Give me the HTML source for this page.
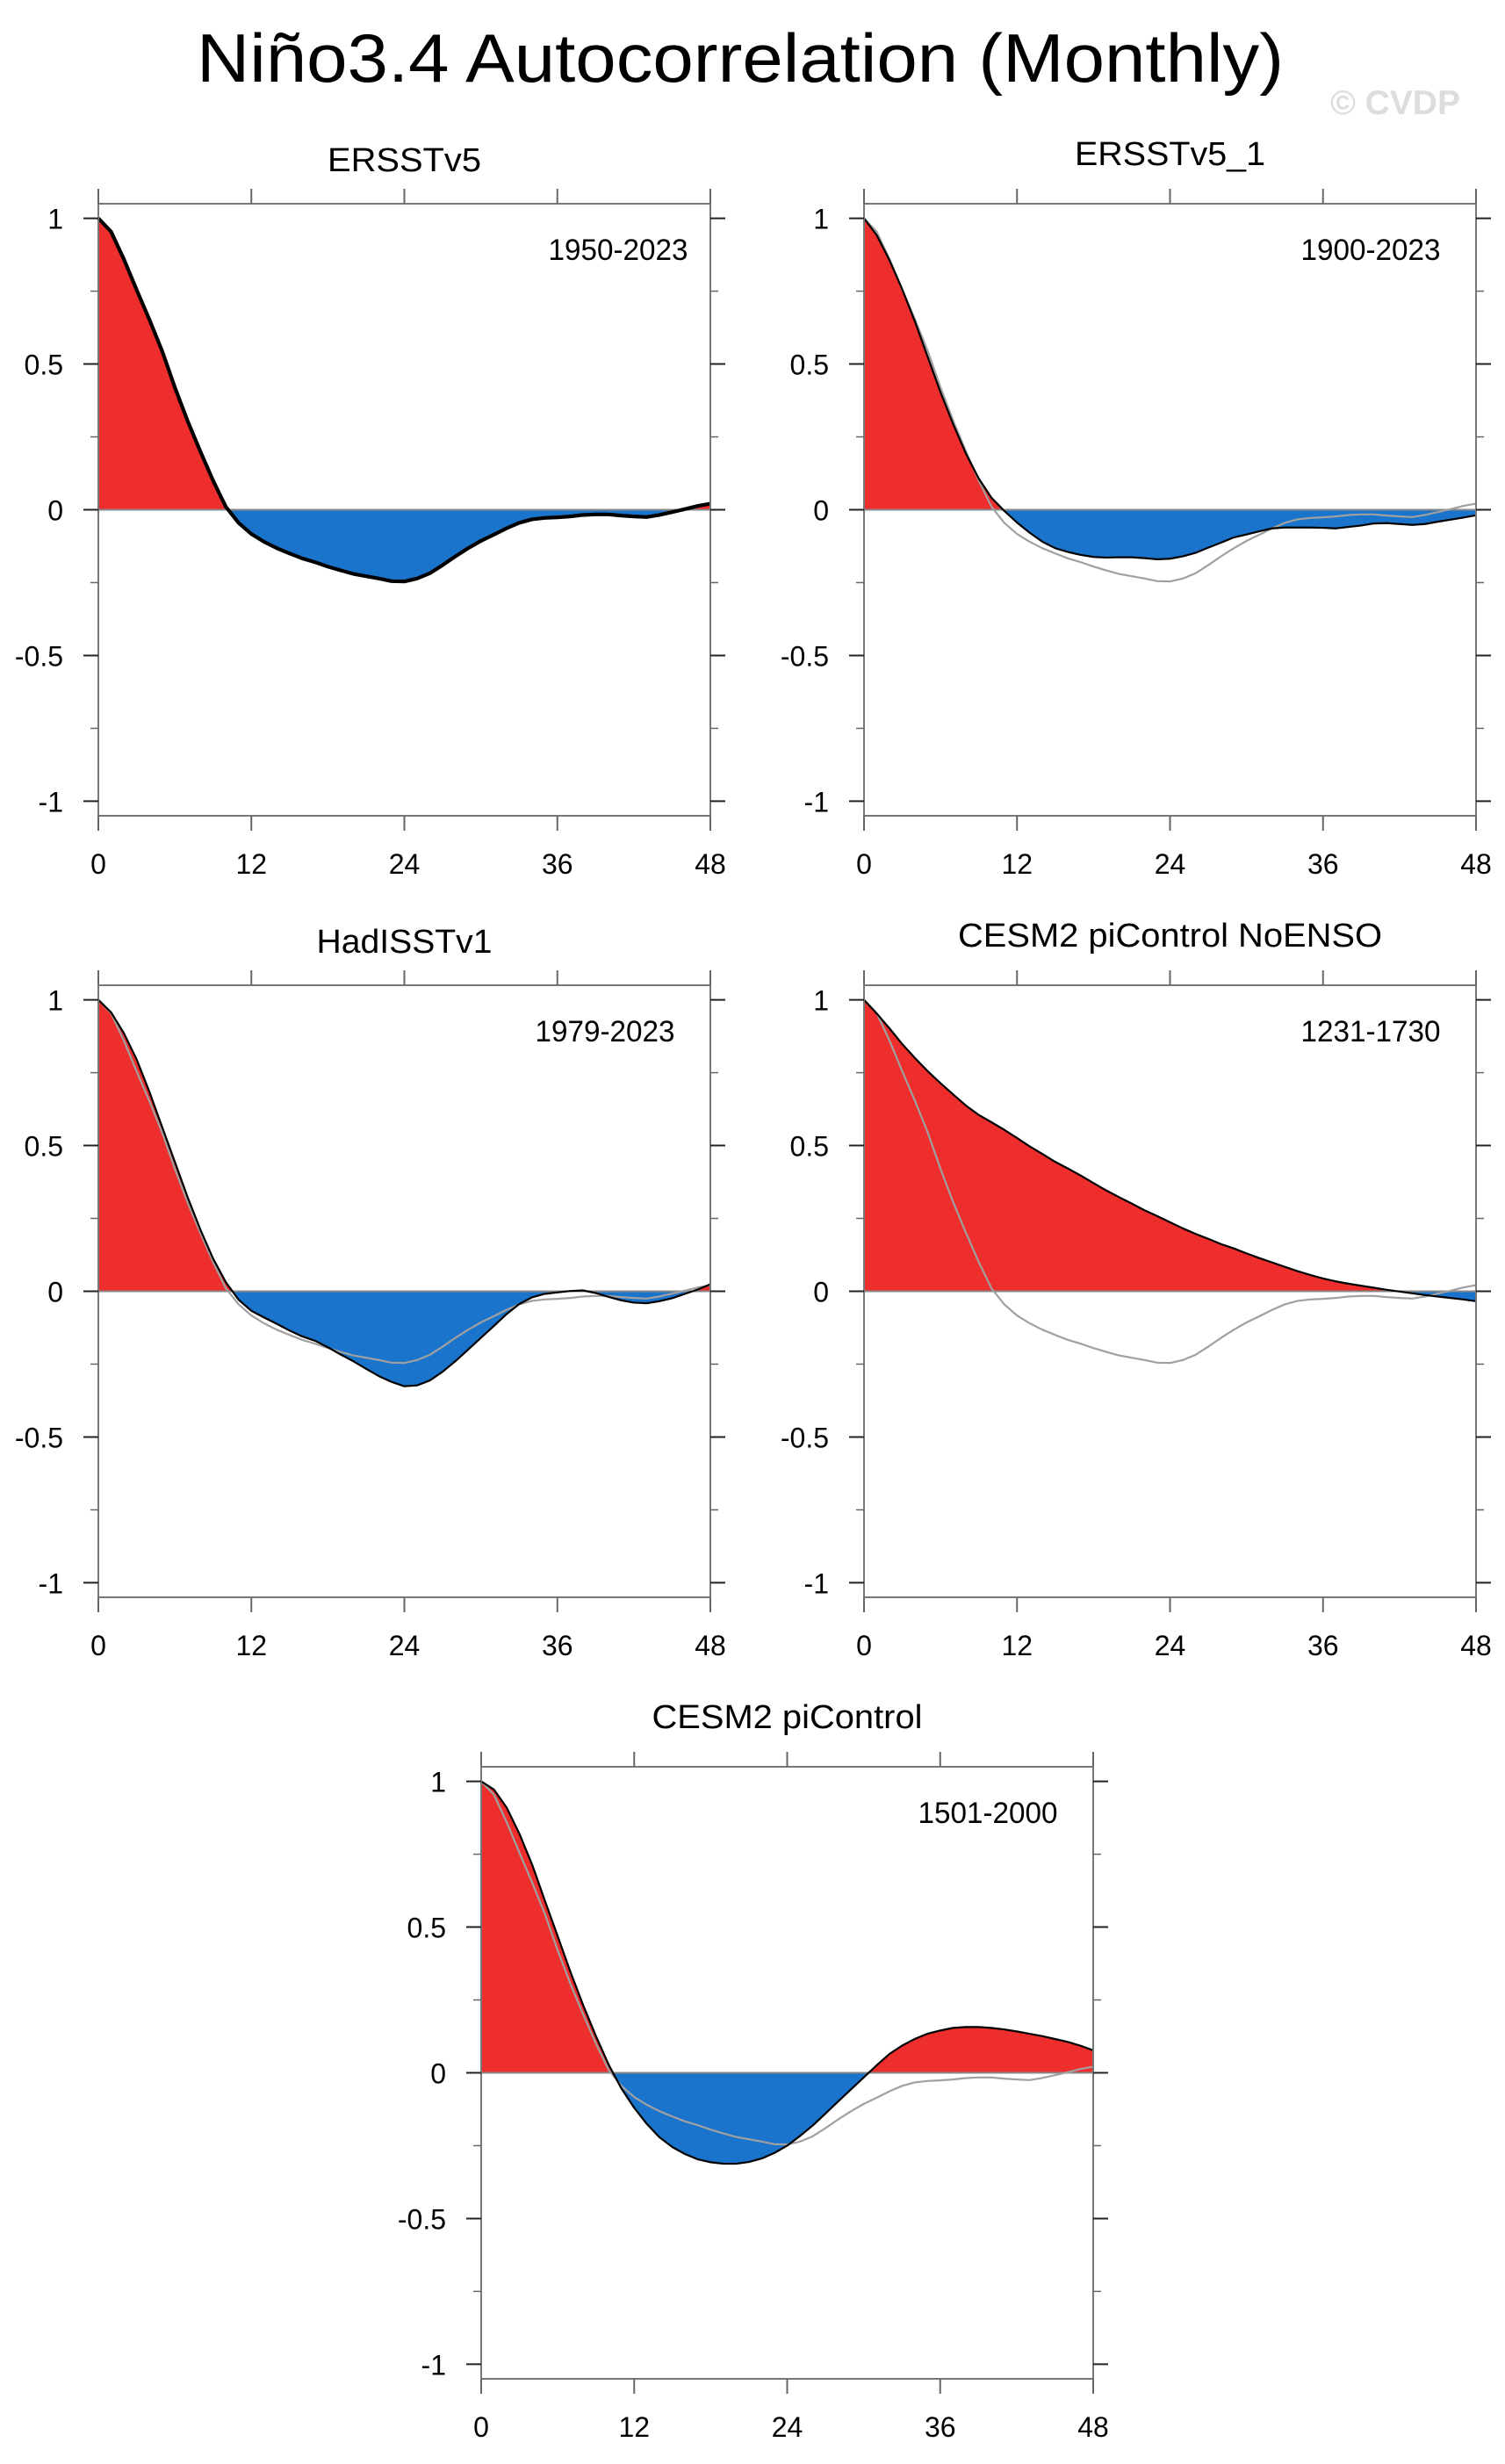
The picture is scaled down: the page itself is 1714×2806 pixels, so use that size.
<!DOCTYPE html>
<html>
<head>
<meta charset="utf-8">
<style>
  html,body{margin:0;padding:0;background:#fff;}
  svg{display:block;}
  text{font-family:"Liberation Sans", Arial, sans-serif;}
</style>
</head>
<body>
<svg id="fig" xmlns="http://www.w3.org/2000/svg" width="1714" height="2806" viewBox="0 0 1714 2806">
  <rect x="0" y="0" width="1714" height="2806" fill="#fff"/>
  <text x="843" y="93" text-anchor="middle" font-size="78" textLength="1238" lengthAdjust="spacingAndGlyphs" fill="#000">Niño3.4 Autocorrelation (Monthly)</text>
  <text x="1663" y="130" text-anchor="end" font-size="39" font-weight="bold" fill="#dddddd">© CVDP</text>
</svg>
<script>
// ---- data ----
const lags = [0,1,2,3,4,5,6,7,8,9,10,11,12,13,14,15,16,17,18,19,20,21,22,23,24,25,26,27,28,29,30,31,32,33,34,35,36,37,38,39,40,41,42,43,44,45,46,47,48];
const ersstv5 = [1.0,0.954,0.86,0.755,0.653,0.545,0.42,0.305,0.20,0.10,0.01,-0.045,-0.083,-0.11,-0.132,-0.15,-0.167,-0.18,-0.195,-0.208,-0.22,-0.228,-0.236,-0.245,-0.246,-0.236,-0.218,-0.19,-0.16,-0.132,-0.107,-0.086,-0.064,-0.045,-0.033,-0.028,-0.026,-0.023,-0.018,-0.016,-0.016,-0.02,-0.023,-0.025,-0.018,-0.008,0.002,0.013,0.021];
const ersstv5_1 = [1.0,0.942,0.856,0.756,0.645,0.524,0.403,0.293,0.192,0.107,0.041,-0.004,-0.044,-0.079,-0.11,-0.132,-0.145,-0.155,-0.162,-0.164,-0.163,-0.163,-0.166,-0.17,-0.168,-0.16,-0.148,-0.13,-0.113,-0.095,-0.085,-0.074,-0.064,-0.061,-0.061,-0.061,-0.062,-0.064,-0.059,-0.054,-0.047,-0.046,-0.049,-0.052,-0.049,-0.041,-0.034,-0.027,-0.019];
const hadisst = [1.0,0.957,0.886,0.796,0.685,0.564,0.444,0.323,0.212,0.112,0.031,-0.029,-0.067,-0.09,-0.112,-0.135,-0.155,-0.17,-0.192,-0.217,-0.24,-0.266,-0.291,-0.311,-0.326,-0.323,-0.306,-0.276,-0.24,-0.2,-0.16,-0.12,-0.079,-0.044,-0.021,-0.009,-0.004,0.001,0.003,-0.006,-0.019,-0.031,-0.039,-0.041,-0.034,-0.024,-0.009,0.006,0.024];
const cesmNoEnso = [1.0,0.953,0.902,0.848,0.8,0.755,0.714,0.675,0.637,0.605,0.58,0.554,0.526,0.497,0.471,0.444,0.421,0.397,0.371,0.346,0.323,0.301,0.278,0.258,0.237,0.216,0.197,0.18,0.162,0.147,0.13,0.114,0.099,0.084,0.069,0.056,0.044,0.034,0.026,0.019,0.012,0.005,-0.001,-0.007,-0.013,-0.018,-0.023,-0.028,-0.034];
const cesmPi = [1.0,0.972,0.91,0.82,0.714,0.59,0.469,0.346,0.232,0.126,0.028,-0.054,-0.12,-0.176,-0.222,-0.255,-0.279,-0.297,-0.307,-0.312,-0.312,-0.306,-0.294,-0.275,-0.25,-0.217,-0.181,-0.14,-0.098,-0.057,-0.016,0.025,0.064,0.093,0.116,0.134,0.145,0.154,0.157,0.157,0.154,0.149,0.142,0.134,0.126,0.116,0.106,0.093,0.077];
const xTicks = [0,12,24,36,48];
const xTickLabels = ["0","12","24","36","48"];
const yTicks = [-1,-0.5,0,0.5,1];
const yTickLabels = ["-1","-0.5","0","0.5","1"];
const yMinorTicks = [-0.75,-0.25,0.25,0.75];
const panelTitles = ["ERSSTv5","ERSSTv5_1","HadISSTv1","CESM2 piControl NoENSO","CESM2 piControl"];
const panelYears = ["1950-2023","1900-2023","1979-2023","1231-1730","1501-2000"];

const NS = "http://www.w3.org/2000/svg";
const svg = document.getElementById('fig');
function mk(tag, attrs, parent){
  const e = document.createElementNS(NS, tag);
  for (const k in attrs) e.setAttribute(k, attrs[k]);
  (parent||svg).appendChild(e);
  return e;
}
const SIZE = 697;
const panels = [
  {left:112, top:232, series:ersstv5, ref:false, lw:4.2, titleDy:37, tw:175, yc:592},
  {left:984, top:232, series:ersstv5_1, ref:true, lw:2.2, titleDy:44, tw:217, yc:577},
  {left:112, top:1122, series:hadisst, ref:true, lw:2.2, titleDy:37, tw:200, yc:577},
  {left:984, top:1122, series:cesmNoEnso, ref:true, lw:2.2, titleDy:44, tw:483, yc:577},
  {left:548, top:2012, series:cesmPi, ref:true, lw:2.2, titleDy:44, tw:308, yc:577}
];

panels.forEach((p, i) => {
  const g = mk('g', {});
  
  
  const xS = v => p.left + v / 48 * SIZE;
  const yS = v => p.top + (1.05 - v) / 2.1 * SIZE;
  const y0 = yS(0);

  const clipTop = 'clipTop' + i, clipBot = 'clipBot' + i;
  const defs = mk('defs', {}, g);
  const c1 = mk('clipPath', {id: clipTop}, defs);
  mk('rect', {x: p.left, y: p.top, width: SIZE, height: y0 - p.top}, c1);
  const c2 = mk('clipPath', {id: clipBot}, defs);
  mk('rect', {x: p.left, y: y0, width: SIZE, height: p.top + SIZE - y0}, c2);
  let area = 'M' + xS(lags[0]) + ' ' + y0;
  lags.forEach((l, k) => { area += ' L' + xS(l).toFixed(2) + ' ' + yS(p.series[k]).toFixed(2); });
  area += ' L' + xS(lags[lags.length-1]) + ' ' + y0 + ' Z';
  const pos = mk('path', {d: area, fill: '#ee2d2d', 'clip-path': 'url(#' + clipTop + ')'}, g);
  
  
  const neg = mk('path', {d: area, fill: '#1b74cc', 'clip-path': 'url(#' + clipBot + ')'}, g);
  
  

  const zl = mk('line', {x1: p.left, x2: p.left + SIZE, y1: y0, y2: y0, stroke: '#888', 'stroke-width': 2}, g);
  
  

  if (p.ref) {
    const d = lags.map((l, k) => (k ? 'L' : 'M') + xS(l).toFixed(2) + ' ' + yS(ersstv5[k]).toFixed(2)).join(' ');
    const rl = mk('path', {d: d, fill: 'none', stroke: '#a0a0a0', 'stroke-width': 2.2, 'stroke-linejoin': 'round'}, g);
    
    
  }
  const d2 = lags.map((l, k) => (k ? 'L' : 'M') + xS(l).toFixed(2) + ' ' + yS(p.series[k]).toFixed(2)).join(' ');
  const sl = mk('path', {d: d2, fill: 'none', stroke: '#000', 'stroke-width': p.lw, 'stroke-linejoin': 'round'}, g);
  
  

  const fr = mk('rect', {x: p.left, y: p.top, width: SIZE, height: SIZE, fill: 'none', stroke: '#777', 'stroke-width': 2}, g);
  
  

  xTicks.forEach((t, k) => {
    const x = xS(t);
    mk('line', {x1: x, x2: x, y1: p.top - 17, y2: p.top, stroke: '#666', 'stroke-width': 2}, g);
    mk('line', {x1: x, x2: x, y1: p.top + SIZE, y2: p.top + SIZE + 17, stroke: '#666', 'stroke-width': 2}, g);
    const tl = mk('text', {x: x, y: p.top + SIZE + 66, 'text-anchor': 'middle', 'font-size': 32, fill: '#000'}, g);
    tl.textContent = xTickLabels[k];
    
    
  });
  yTicks.forEach((t, k) => {
    const y = yS(t);
    mk('line', {x1: p.left - 17, x2: p.left, y1: y, y2: y, stroke: '#222', 'stroke-width': 2}, g);
    mk('line', {x1: p.left + SIZE, x2: p.left + SIZE + 17, y1: y, y2: y, stroke: '#222', 'stroke-width': 2}, g);
    const tl = mk('text', {x: p.left - 40, y: y + 12, 'text-anchor': 'end', 'font-size': 32, fill: '#000'}, g);
    tl.textContent = yTickLabels[k];
    
    
  });
  yMinorTicks.forEach(t => {
    const y = yS(t);
    mk('line', {x1: p.left - 9, x2: p.left, y1: y, y2: y, stroke: '#666', 'stroke-width': 1.5}, g);
    mk('line', {x1: p.left + SIZE, x2: p.left + SIZE + 9, y1: y, y2: y, stroke: '#666', 'stroke-width': 1.5}, g);
  });

  const tt = mk('text', {x: p.left + SIZE / 2, y: p.top - p.titleDy, 'text-anchor': 'middle', 'font-size': 38, textLength: p.tw, lengthAdjust: 'spacingAndGlyphs', fill: '#000'}, g);
  tt.textContent = panelTitles[i];
  
  
  const yr = mk('text', {x: p.left + p.yc, y: p.top + 64, 'text-anchor': 'middle', 'font-size': 34, textLength: 159, lengthAdjust: 'spacingAndGlyphs', fill: '#000'}, g);
  yr.textContent = panelYears[i];
  
  
});
</script>
</body>
</html>
